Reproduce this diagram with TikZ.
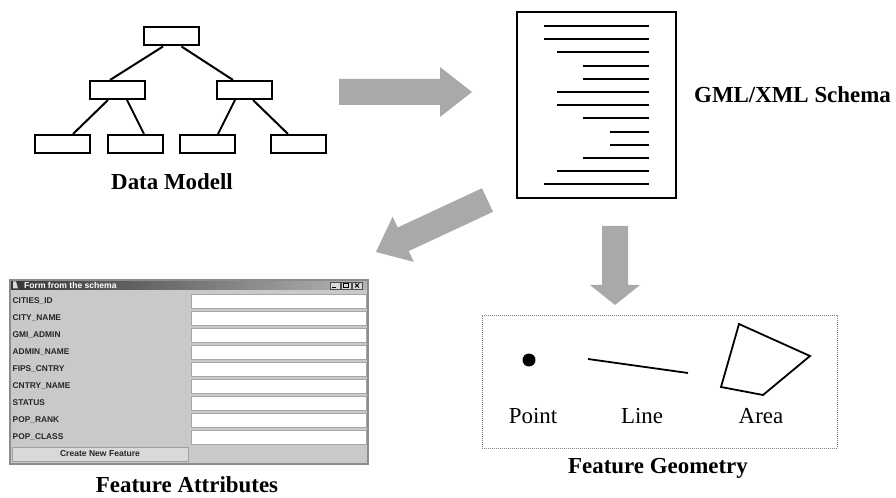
\documentclass[tikz,border=0pt]{standalone}
\usepackage{fontspec}
\setmainfont{Liberation Serif}
\newfontfamily\formfont{Liberation Sans}
\usetikzlibrary{positioning}
\definecolor{arrowgray}{HTML}{A9A9A9}
\definecolor{formbg}{HTML}{C9C9C9}
\definecolor{framegray}{HTML}{8C8C8C}
\definecolor{titledark}{HTML}{363636}
\definecolor{titlelight}{HTML}{B4B4B4}
\begin{document}
\begin{tikzpicture}[x=1bp,y=-1bp,
  tbox/.style={draw, line width=2bp, minimum width=55bp, minimum height=18bp, inner sep=0pt},
  tline/.style={line width=2bp},
  sline/.style={line width=1.4bp},
  bigarrow/.style={fill=arrowgray, draw=none},
  caption/.style={font=\fontsize{23}{26}\selectfont\bfseries, inner sep=0pt, anchor=base},
  geolabel/.style={font=\fontsize{23}{26}\selectfont, inner sep=0pt, anchor=base},
  flabel/.style={font=\formfont\fontsize{8.4}{10}\selectfont\bfseries, inner sep=0pt, anchor=west, text=black!85},
  field/.style={draw=gray!70, fill=white, line width=0.8bp, minimum width=175bp, minimum height=14bp, inner sep=0pt},
  geom/.style={line width=1.8bp, line join=miter}
]
\useasboundingbox (0,0) rectangle (896,498);

% ---------------- Data model tree ----------------
\node[tbox] (top) at (171.5,36.5) {};
\node[tbox] (ml) at (117.5,90) {};
\node[tbox] (mr) at (244,90) {};
\node[tbox] (b1) at (62.5,144) {};
\node[tbox] (b2) at (135.5,144) {};
\node[tbox] (b3) at (207.5,144) {};
\node[tbox] (b4) at (298.5,144) {};
\draw[tline] ([xshift=-8.5bp]top.south) -- ([xshift=-7.5bp]ml.north);
\draw[tline] ([xshift=10bp]top.south) -- ([xshift=-11bp]mr.north);
\draw[tline] ([xshift=-9.5bp]ml.south) -- ([xshift=10.5bp]b1.north);
\draw[tline] ([xshift=9.5bp]ml.south) -- ([xshift=8.5bp]b2.north);
\draw[tline] ([xshift=-9bp]mr.south) -- ([xshift=10.5bp]b3.north);
\draw[tline] ([xshift=9bp]mr.south) -- ([xshift=-10.5bp]b4.north);
\node[caption] (dmcap) at (172,190) {Data Modell};

% ---------------- Schema document ----------------
\node[draw, line width=1.4bp, minimum width=159bp, minimum height=186bp, inner sep=0pt] (schema) at (596.5,105) {};
\foreach \xs/\yy in {544/26,544/39,557/52,583/66,583/79,557/92,557/105,583/118,610/132,610/145,583/158,557/171,544/184}{
  \draw[sline] (\xs,\yy) -- (649,\yy);
}
\node[caption, anchor=base west] (gmlcap) at (694,103) {GML/XML Schema};

% ---------------- Big gray arrows ----------------
\fill[bigarrow] (339,79) -- (440,79) -- (440,67) -- (472,92) -- (440,117) -- (440,105) -- (339,105) -- cycle;
\fill[bigarrow] (482,188.2) -- (493,211.8) -- (408.7,251.1) -- (413.8,261.9) -- (376,252) -- (392.6,216.7) -- (397.7,227.5) -- cycle;
\fill[bigarrow] (602,226) -- (628,226) -- (628,285) -- (640,285) -- (615,305) -- (590,285) -- (602,285) -- cycle;

% ---------------- Feature geometry ----------------
\node[draw=gray, dash pattern=on 1bp off 1bp, line width=0.9bp, minimum width=355bp, minimum height=133bp, inner sep=0pt] (geobox) at (659.5,381.5) {};
\fill (529,360) circle (6.5bp);
\draw[geom] (588,359) -- (688,373);
\draw[geom] (739,324) -- (810,356) -- (763,395) -- (721,387) -- cycle;
\node[geolabel] (pt) at (533,423) {Point};
\node[geolabel] (ln) at (642,423) {Line};
\node[geolabel] (ar) at (761,423) {Area};
\node[caption] (fgcap) at (658,473) {Feature Geometry};

% ---------------- Form window ----------------
\fill[formbg] (10,280) rectangle (368,464);
\shade[left color=titledark, right color=titlelight] (11,280.5) rectangle (367,290);
\draw[framegray, line width=1.4bp] (10,280) rectangle (368,464);
\node[font=\formfont\fontsize{8.6}{10}\selectfont\bfseries, text=white, inner sep=0pt, anchor=west] (title) at (24,285.5) {Form from the schema};
\fill[white!85!black] (13,281.5) -- (16,281.5) -- (18,288.5) -- (13,288.5) -- cycle;
% window controls
\foreach \bx/\nm in {330/wmin,341/wmax,352/wcls}{
  \draw[fill=gray!30, draw=gray!60!black, line width=0.5bp] (\bx,282) rectangle (\bx+10,289);
}
\draw[line width=1bp] (332,287.8) -- (336,287.8);
\draw[line width=0.7bp] (343.5,283.5) rectangle (348.5,287.5);
\draw[line width=0.8bp] (355,283.5) -- (359,287.5) (355,287.5) -- (359,283.5);

\foreach \i/\lab/\yy in {1/CITIES\_ID/301, 2/CITY\_NAME/318, 3/GMI\_ADMIN/335, 4/ADMIN\_NAME/352, 5/FIPS\_CNTRY/369, 6/CNTRY\_NAME/386, 7/STATUS/403, 8/POP\_RANK/420, 9/POP\_CLASS/437}{
  \node[flabel] (lab\i) at (12.5,\yy) {\lab};
  \node[field] (fld\i) at (278.5,\yy) {};
}
\node[draw=gray!75, fill=gray!30, line width=0.8bp, minimum width=176bp, minimum height=14bp, inner sep=0pt,
      font=\formfont\fontsize{8.6}{10}\selectfont\bfseries, text=black!85] (btn) at (100,454) {Create New Feature};
\node[caption] (facap) at (187,492) {Feature Attributes};
\end{tikzpicture}
\end{document}
